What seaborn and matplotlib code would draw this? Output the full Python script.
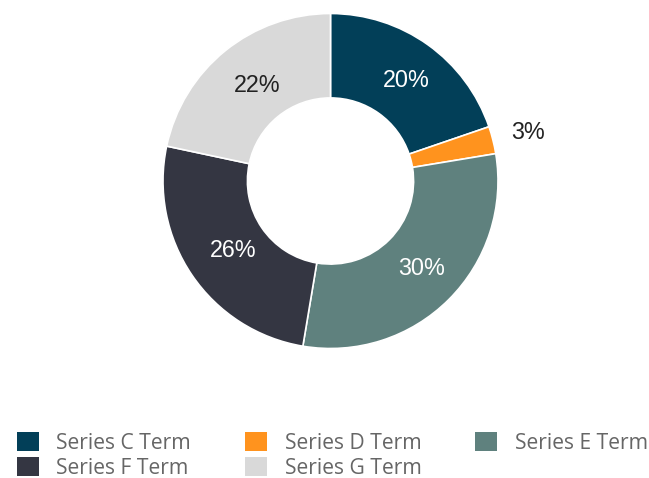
import numpy as np
import matplotlib
matplotlib.use("Agg")
import matplotlib.pyplot as plt
import seaborn as sns
from matplotlib.patches import Patch

categories = ["Series C Term", "Series D Term", "Series E Term", "Series F Term", "Series G Term"]
values = [19.75, 2.64, 30.25, 25.7, 21.66]
colors = ["#023F58", "#FF931E", "#5F817E", "#343642", "#D9D9D9"]
label_colors = ["white", "#222222", "white", "white", "#222222"]
label_radius = [0.735, 1.19, 0.735, 0.735, 0.735]

sns.set_style("white")
plt.rcParams["font.family"] = ["Liberation Sans", "DejaVu Sans"]

fig = plt.figure(figsize=(6.49, 4.78), dpi=100)
R = 167.5
cx, cy = 330.5, 181
W, H = 649, 478
ax = fig.add_axes([(cx - R) / W, (H - cy - R) / H, 2 * R / W, 2 * R / H])
wedges, _ = ax.pie(values, colors=colors, startangle=90, counterclock=False,
                   radius=1.0, wedgeprops=dict(width=0.504, edgecolor="white", linewidth=1.2))
ax.set_xlim(-1, 1)
ax.set_ylim(-1, 1)
ax.set_aspect("equal")
ax.axis("off")

total = sum(values)
for w, v, c, r in zip(wedges, values, label_colors, label_radius):
    ang = np.deg2rad((w.theta1 + w.theta2) / 2)
    ax.text(r * np.cos(ang) + 0.025, r * np.sin(ang), f"{v / total * 100:.0f}%",
            ha="center", va="center", color=c, fontsize=16.8)

# legend: row-major order in 3 columns x 2 rows (matplotlib fills column-major)
order = [0, 3, 1, 4, 2]
handles = [Patch(facecolor=colors[i], edgecolor="none") for i in order]
labels = [categories[i] for i in order]
leg = fig.legend(handles, labels, loc="upper left", bbox_to_anchor=(17 / W, 1 - 432 / H),
                 ncol=3, frameon=False, prop={"family": "Open Sans", "size": 15.2},
                 handlelength=1.03, handleheight=1.03, handletextpad=0.84,
                 columnspacing=2.55, labelspacing=0.14, borderaxespad=0, borderpad=0)
for t in leg.get_texts():
    t.set_color("#666666")

fig.savefig("out.png", dpi=100)
